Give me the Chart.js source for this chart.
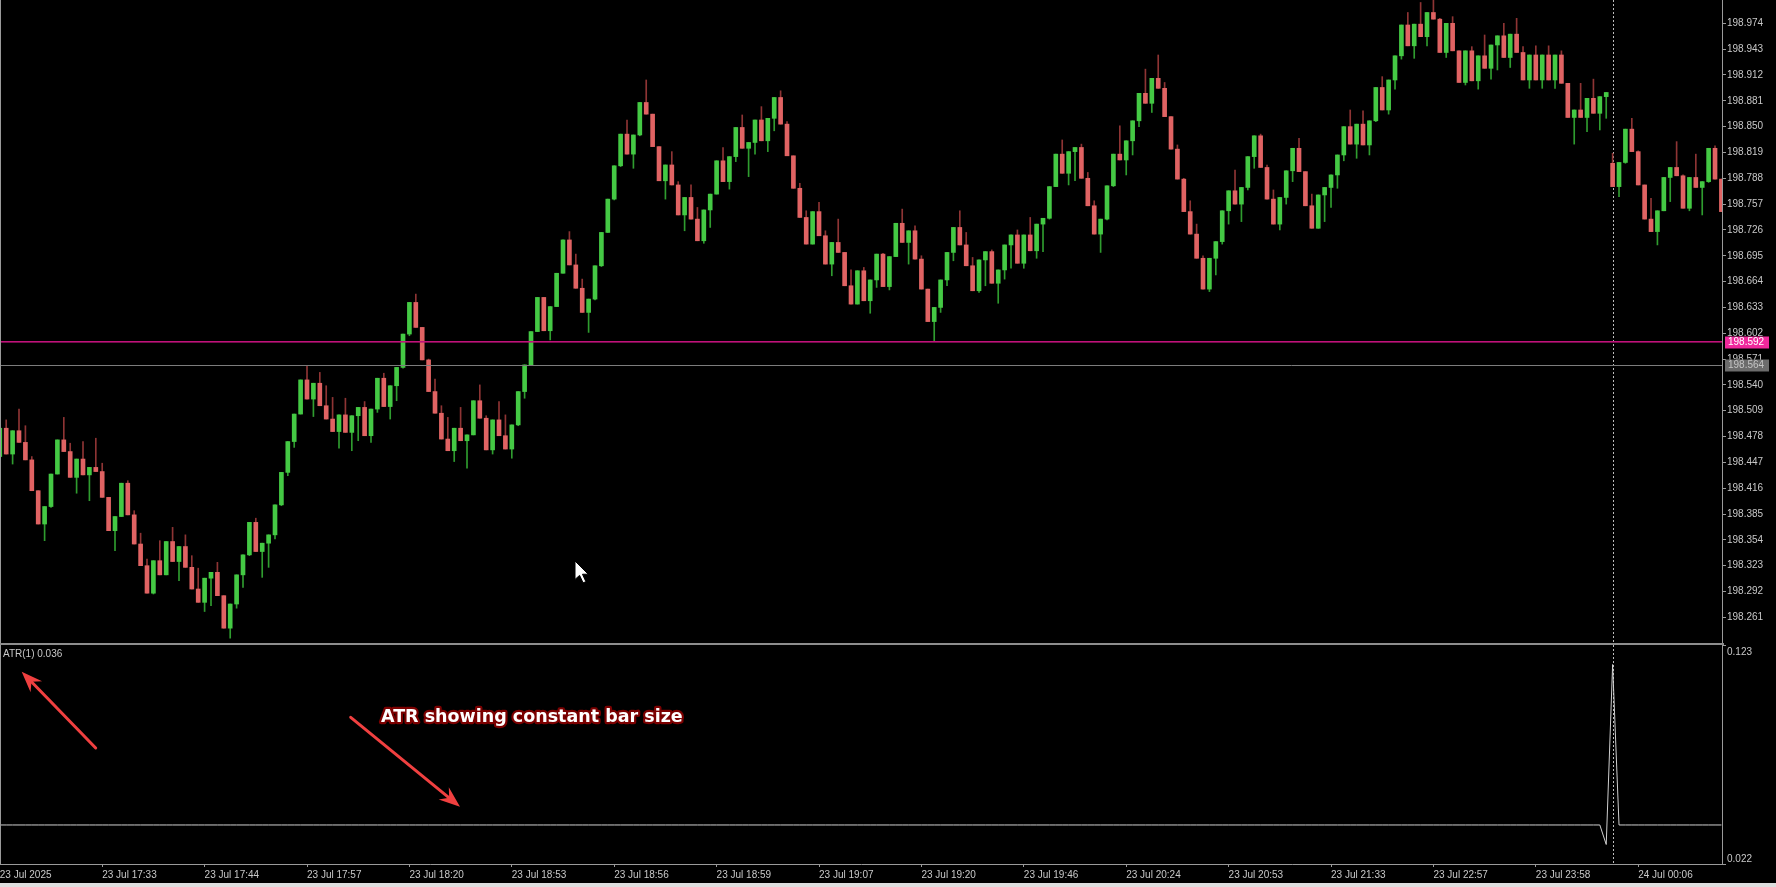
<!DOCTYPE html>
<html>
<head>
<meta charset="utf-8">
<script src="https://cdn.jsdelivr.net/npm/chart.js@4.4.1/dist/chart.umd.min.js"></script>
<style>
html,body{margin:0;padding:0;background:#000;overflow:hidden;}
#wrap{position:relative;width:1776px;height:887px;background:#000;}
#c1{position:absolute;left:0;top:0;}
#c2{position:absolute;left:0;top:645px;}
#sep{position:absolute;left:0;top:643px;width:1724px;height:2px;background:#8e8e8e;}
#strip{position:absolute;left:0;top:883px;width:1776px;height:4px;background:#dedede;}
</style>
</head>
<body>
<div id="wrap">
<canvas id="c1" width="1776" height="643"></canvas>
<div id="sep"></div>
<canvas id="c2" width="1776" height="238"></canvas>
<div id="strip"></div>
</div>
<script>
// ---------------- DATA (range bars) ----------------
const open = [
198.454,198.488,198.457,198.485,198.471,198.450,198.413,198.373,198.394,198.433,
198.474,198.460,198.429,198.451,198.432,198.441,198.436,198.405,198.365,198.382,
198.422,198.384,198.349,198.323,198.290,198.329,198.312,198.352,198.328,198.346,
198.321,198.295,198.279,198.308,198.315,198.287,198.248,198.277,198.312,198.336,
198.375,198.340,198.350,198.360,198.396,198.435,198.472,198.505,198.546,198.523,
198.542,198.515,198.499,198.484,198.504,198.483,198.503,198.513,198.479,198.511,
198.548,198.514,198.539,198.561,198.601,198.639,198.609,198.570,198.532,198.506,
198.475,198.461,198.488,198.473,198.480,198.521,198.500,198.462,198.498,198.479,
198.463,198.492,198.532,198.564,198.604,198.645,198.605,198.634,198.674,198.714,
198.684,198.656,198.627,198.643,198.683,198.723,198.763,198.803,198.841,198.817,
198.840,198.879,198.865,198.826,198.785,198.804,198.780,198.744,198.765,198.739,
198.713,198.750,198.769,198.809,198.784,198.814,198.849,198.824,198.831,198.858,
198.833,198.860,198.885,198.853,198.815,198.776,198.741,198.709,198.748,198.719,
198.685,198.711,198.699,198.659,198.637,198.677,198.641,198.666,198.697,198.658,
198.694,198.734,198.711,198.725,198.691,198.655,198.616,198.633,198.666,198.699,
198.729,198.708,198.683,198.653,198.690,198.700,198.662,198.678,198.708,198.720,
198.686,198.720,198.701,198.733,198.740,198.778,198.817,198.794,198.820,198.825,
198.788,198.755,198.721,198.739,198.779,198.817,198.810,198.833,198.857,198.890,
198.878,198.908,198.896,198.862,198.823,198.787,198.748,198.721,198.692,198.655,
198.692,198.712,198.749,198.773,198.757,198.777,198.814,198.839,198.801,198.763,
198.733,198.765,198.797,198.824,198.796,198.755,198.728,198.768,198.777,198.792,
198.816,198.850,198.829,198.853,198.828,198.857,198.897,198.870,198.906,198.935,
198.972,198.947,198.973,198.958,198.987,198.979,198.939,198.974,198.941,198.903,
198.941,198.905,198.935,198.920,198.948,198.959,198.933,198.961,198.939,198.906,
198.936,198.906,198.936,198.906,198.936,198.902,198.861,198.870,198.861,198.884,
198.866,198.886,198.806,198.778,198.807,198.847,198.820,198.780,198.739,198.724,
198.749,198.789,198.801,198.791,198.752,198.789,198.777,198.784,198.824,198.787
];
const high = [
198.488,198.498,198.485,198.511,198.491,198.454,198.413,198.394,198.433,198.474,
198.501,198.470,198.451,198.472,198.441,198.476,198.446,198.405,198.382,198.422,
198.425,198.389,198.362,198.331,198.329,198.353,198.352,198.369,198.346,198.360,
198.335,198.320,198.308,198.315,198.327,198.287,198.277,198.312,198.336,198.375,
198.380,198.350,198.360,198.396,198.435,198.472,198.505,198.546,198.563,198.542,
198.555,198.539,198.525,198.504,198.524,198.503,198.513,198.520,198.511,198.548,
198.554,198.539,198.561,198.601,198.639,198.649,198.609,198.571,198.547,198.515,
198.501,198.488,198.513,198.480,198.521,198.540,198.503,198.498,198.520,198.504,
198.492,198.532,198.564,198.604,198.645,198.645,198.634,198.674,198.714,198.724,
198.697,198.667,198.643,198.683,198.723,198.763,198.803,198.841,198.858,198.840,
198.879,198.906,198.865,198.826,198.804,198.820,198.784,198.765,198.780,198.753,
198.750,198.769,198.809,198.825,198.814,198.849,198.864,198.831,198.858,198.874,
198.860,198.885,198.893,198.856,198.815,198.782,198.749,198.748,198.759,198.725,
198.711,198.739,198.699,198.678,198.677,198.681,198.666,198.697,198.698,198.694,
198.734,198.751,198.725,198.731,198.695,198.655,198.633,198.666,198.699,198.729,
198.749,198.723,198.693,198.690,198.700,198.702,198.678,198.708,198.720,198.726,
198.720,198.741,198.733,198.740,198.778,198.817,198.834,198.820,198.825,198.829,
198.795,198.761,198.739,198.779,198.817,198.851,198.833,198.857,198.890,198.919,
198.908,198.936,198.903,198.862,198.828,198.788,198.761,198.733,198.695,198.692,
198.712,198.749,198.773,198.798,198.777,198.814,198.839,198.841,198.804,198.774,
198.765,198.797,198.824,198.836,198.796,198.769,198.768,198.777,198.792,198.816,
198.850,198.870,198.853,198.869,198.857,198.897,198.910,198.906,198.935,198.972,
198.987,198.973,198.999,198.987,199.019,198.980,198.974,198.982,198.941,198.941,
198.946,198.935,198.960,198.948,198.959,198.974,198.961,198.980,198.946,198.936,
198.947,198.936,198.947,198.936,198.941,198.902,198.870,198.902,198.884,198.907,
198.886,198.891,198.818,198.807,198.847,198.860,198.821,198.780,198.764,198.749,
198.789,198.801,198.832,198.792,198.789,198.817,198.784,198.824,198.827,198.787
];
const low = [
198.448,198.457,198.445,198.471,198.450,198.413,198.373,198.353,198.393,198.433,
198.460,198.429,198.410,198.432,198.401,198.436,198.405,198.365,198.341,198.382,
198.384,198.349,198.323,198.290,198.289,198.312,198.312,198.328,198.305,198.321,
198.295,198.279,198.268,198.275,198.287,198.248,198.236,198.272,198.297,198.335,
198.340,198.309,198.321,198.355,198.395,198.431,198.465,198.505,198.523,198.502,
198.515,198.499,198.484,198.464,198.483,198.461,198.473,198.479,198.471,198.507,
198.514,198.499,198.521,198.560,198.599,198.609,198.570,198.532,198.506,198.475,
198.461,198.448,198.473,198.440,198.480,198.500,198.462,198.457,198.479,198.463,
198.452,198.491,198.524,198.563,198.604,198.605,198.594,198.634,198.674,198.684,
198.656,198.627,198.603,198.642,198.682,198.723,198.762,198.802,198.817,198.800,
198.839,198.865,198.826,198.785,198.763,198.780,198.744,198.725,198.739,198.713,
198.710,198.729,198.769,198.784,198.775,198.808,198.824,198.790,198.817,198.833,
198.820,198.845,198.853,198.815,198.776,198.741,198.709,198.709,198.719,198.685,
198.671,198.699,198.659,198.637,198.637,198.641,198.626,198.657,198.658,198.654,
198.694,198.711,198.685,198.691,198.655,198.616,198.593,198.627,198.659,198.689,
198.708,198.683,198.653,198.651,198.659,198.662,198.638,198.667,198.680,198.686,
198.680,198.701,198.692,198.700,198.739,198.778,198.794,198.780,198.785,198.788,
198.755,198.721,198.699,198.738,198.778,198.810,198.792,198.816,198.850,198.878,
198.867,198.896,198.862,198.823,198.787,198.748,198.721,198.692,198.655,198.652,
198.672,198.709,198.733,198.757,198.736,198.774,198.800,198.801,198.763,198.733,
198.726,198.757,198.784,198.796,198.755,198.728,198.728,198.736,198.753,198.776,
198.809,198.829,198.812,198.828,198.816,198.856,198.870,198.865,198.895,198.931,
198.947,198.932,198.958,198.947,198.979,198.939,198.933,198.941,198.903,198.900,
198.905,198.895,198.920,198.907,198.918,198.933,198.921,198.939,198.906,198.896,
198.906,198.896,198.906,198.896,198.902,198.861,198.829,198.861,198.844,198.866,
198.846,198.860,198.778,198.766,198.806,198.820,198.780,198.739,198.724,198.708,
198.749,198.760,198.791,198.752,198.749,198.777,198.744,198.783,198.787,198.748
];
const close = [
198.488,198.457,198.485,198.471,198.450,198.413,198.373,198.394,198.433,198.474,
198.460,198.429,198.451,198.432,198.441,198.436,198.405,198.365,198.382,198.422,
198.384,198.349,198.323,198.290,198.329,198.312,198.352,198.328,198.346,198.321,
198.295,198.279,198.308,198.315,198.287,198.248,198.277,198.312,198.336,198.375,
198.340,198.350,198.360,198.396,198.435,198.472,198.505,198.546,198.523,198.542,
198.515,198.499,198.484,198.504,198.483,198.503,198.513,198.479,198.511,198.548,
198.514,198.539,198.561,198.601,198.639,198.609,198.570,198.532,198.506,198.475,
198.461,198.488,198.473,198.480,198.521,198.500,198.462,198.498,198.479,198.463,
198.492,198.532,198.564,198.604,198.645,198.605,198.634,198.674,198.714,198.684,
198.656,198.627,198.643,198.683,198.723,198.763,198.803,198.841,198.817,198.840,
198.879,198.865,198.826,198.785,198.804,198.780,198.744,198.765,198.739,198.713,
198.750,198.769,198.809,198.784,198.814,198.849,198.824,198.831,198.858,198.833,
198.860,198.885,198.853,198.815,198.776,198.741,198.709,198.748,198.719,198.685,
198.711,198.699,198.659,198.637,198.677,198.641,198.666,198.697,198.658,198.694,
198.734,198.711,198.725,198.691,198.655,198.616,198.633,198.666,198.699,198.729,
198.708,198.683,198.653,198.690,198.700,198.662,198.678,198.708,198.720,198.686,
198.720,198.701,198.733,198.740,198.778,198.817,198.794,198.820,198.825,198.788,
198.755,198.721,198.739,198.779,198.817,198.810,198.833,198.857,198.890,198.878,
198.908,198.896,198.862,198.823,198.787,198.748,198.721,198.692,198.655,198.692,
198.712,198.749,198.773,198.757,198.777,198.814,198.839,198.801,198.763,198.733,
198.765,198.797,198.824,198.796,198.755,198.728,198.768,198.777,198.792,198.816,
198.850,198.829,198.853,198.828,198.857,198.897,198.870,198.906,198.935,198.972,
198.947,198.973,198.958,198.987,198.979,198.939,198.974,198.941,198.903,198.941,
198.905,198.935,198.920,198.948,198.959,198.933,198.961,198.939,198.906,198.936,
198.906,198.936,198.906,198.936,198.902,198.861,198.870,198.861,198.884,198.866,
198.886,198.891,198.778,198.807,198.847,198.820,198.780,198.739,198.724,198.749,
198.789,198.801,198.791,198.752,198.789,198.777,198.784,198.824,198.787,198.748
];
// ATR(1) value per bar
const atr = [
0.040,0.040,0.040,0.040,0.040,0.040,0.040,0.040,0.040,0.040,0.040,0.040,0.040,0.040,0.040,0.040,0.040,0.040,0.040,0.040,0.040,0.040,0.040,0.040,0.040,0.040,0.040,0.040,0.040,0.040,
0.040,0.040,0.040,0.040,0.040,0.040,0.040,0.040,0.040,0.040,0.040,0.040,0.040,0.040,0.040,0.040,0.040,0.040,0.040,0.040,0.040,0.040,0.040,0.040,0.040,0.040,0.040,0.040,0.040,0.040,
0.040,0.040,0.040,0.040,0.040,0.040,0.040,0.040,0.040,0.040,0.040,0.040,0.040,0.040,0.040,0.040,0.040,0.040,0.040,0.040,0.040,0.040,0.040,0.040,0.040,0.040,0.040,0.040,0.040,0.040,
0.040,0.040,0.040,0.040,0.040,0.040,0.040,0.040,0.040,0.040,0.040,0.040,0.040,0.040,0.040,0.040,0.040,0.040,0.040,0.040,0.040,0.040,0.040,0.040,0.040,0.040,0.040,0.040,0.040,0.040,
0.040,0.040,0.040,0.040,0.040,0.040,0.040,0.040,0.040,0.040,0.040,0.040,0.040,0.040,0.040,0.040,0.040,0.040,0.040,0.040,0.040,0.040,0.040,0.040,0.040,0.040,0.040,0.040,0.040,0.040,
0.040,0.040,0.040,0.040,0.040,0.040,0.040,0.040,0.040,0.040,0.040,0.040,0.040,0.040,0.040,0.040,0.040,0.040,0.040,0.040,0.040,0.040,0.040,0.040,0.040,0.040,0.040,0.040,0.040,0.040,
0.040,0.040,0.040,0.040,0.040,0.040,0.040,0.040,0.040,0.040,0.040,0.040,0.040,0.040,0.040,0.040,0.040,0.040,0.040,0.040,0.040,0.040,0.040,0.040,0.040,0.040,0.040,0.040,0.040,0.040,
0.040,0.040,0.040,0.040,0.040,0.040,0.040,0.040,0.040,0.040,0.040,0.040,0.040,0.040,0.040,0.040,0.040,0.040,0.040,0.040,0.040,0.040,0.040,0.040,0.040,0.040,0.040,0.040,0.040,0.040,
0.040,0.040,0.040,0.040,0.040,0.040,0.040,0.040,0.040,0.040,0.040,
0.031,0.114,
0.040,0.040,0.040,0.040,0.040,0.040,0.040,0.040,0.040,0.040,0.040,0.040,0.040,0.040,0.040,0.040,0.040
];
const priceTicks = [198.261,198.292,198.323,198.354,198.385,198.416,198.447,198.478,198.509,198.540,
  198.571,198.602,198.633,198.664,198.695,198.726,198.757,198.788,198.819,198.850,198.881,198.912,198.943,198.974,199.005];
const timeTickBars = [0,16,32,48,64,80,96,112,128,144,160,176,192,208,224,240,256];
const timeLabels = ["23 Jul 2025","23 Jul 17:33","23 Jul 17:44","23 Jul 17:57","23 Jul 18:20","23 Jul 18:53",
  "23 Jul 18:56","23 Jul 18:59","23 Jul 19:07","23 Jul 19:20","23 Jul 19:46","23 Jul 20:24","23 Jul 20:53",
  "23 Jul 21:33","23 Jul 22:57","23 Jul 23:58","24 Jul 00:06"];
const hLevels = [198.592, 198.564];
const daySeparatorBar = 252;
const atrAxisLabels = [0.123, 0.022];
const atrTitle = "ATR(1) 0.036";
const noteText = "ATR showing constant bar size";

// ---------------- STYLE ----------------
const FONT = '"Liberation Sans", Arial, sans-serif';
const TXT = '#c8c8c8';
const AXIS = '#9a9a9a';
const X_MIN = 0.031, X_MAX = 269.09;
const UP_BODY = '#44c944', DN_BODY = '#e06363', UP_WICK = '#2f9c2f', DN_WICK = '#8e3434';
Chart.defaults.font.family = FONT;
Chart.defaults.font.size = 10;

const idx = open.map((_, i) => i);
const isUp = idx.map(i => close[i] >= open[i]);

function noPad(s) { s.paddingTop = 0; s.paddingBottom = 0; s.paddingLeft = 0; s.paddingRight = 0; }

function drawArrow(ctx, x1, y1, x2, y2) {
  const a = Math.atan2(y2 - y1, x2 - x1);
  const c = Math.cos(a), s = Math.sin(a);
  const hl = 21, hw = 8, notch = 14;
  ctx.save();
  ctx.strokeStyle = '#f04040'; ctx.fillStyle = '#f04040';
  ctx.lineWidth = 3; ctx.lineCap = 'round';
  ctx.beginPath(); ctx.moveTo(x1, y1); ctx.lineTo(x2 - notch * c, y2 - notch * s); ctx.stroke();
  ctx.beginPath();
  ctx.moveTo(x2, y2);
  ctx.lineTo(x2 - hl * c - hw * s, y2 - hl * s + hw * c);
  ctx.lineTo(x2 - notch * c, y2 - notch * s);
  ctx.lineTo(x2 - hl * c + hw * s, y2 - hl * s - hw * c);
  ctx.closePath(); ctx.fill();
  ctx.restore();
}

function vDashed(chart) {
  const {ctx, chartArea: a, scales: {x}} = chart;
  const sx = Math.round(x.getPixelForValue(daySeparatorBar)) + 0.5;
  ctx.save();
  ctx.strokeStyle = '#bcbcbc'; ctx.lineWidth = 1; ctx.setLineDash([2, 2]);
  ctx.beginPath(); ctx.moveTo(sx, a.top); ctx.lineTo(sx, a.bottom); ctx.stroke();
  ctx.restore();
}

const mainDecor = {
  id: 'mainDecor',
  beforeDatasetsDraw(chart) { vDashed(chart); },
  afterDatasetsDraw(chart) {
    const {ctx, chartArea: a, scales: {y}} = chart;
    ctx.save();
    // magenta level (slightly thick) and grey level
    let py = y.getPixelForValue(hLevels[0]);
    ctx.fillStyle = '#c0127a'; ctx.fillRect(a.left, Math.round(py) - 1, a.right - a.left, 1.6);
    py = Math.round(y.getPixelForValue(hLevels[1])) + 0.5;
    ctx.strokeStyle = '#7c7c7c'; ctx.lineWidth = 1;
    ctx.beginPath(); ctx.moveTo(a.left, py); ctx.lineTo(a.right, py); ctx.stroke();
    ctx.restore();
  },
  afterDraw(chart) {
    const {ctx, chartArea: a, scales: {y}} = chart;
    ctx.save();
    ctx.fillStyle = AXIS; ctx.fillRect(0, a.top, 1, a.bottom - a.top);
    const bg = ['#f0289c', '#6c6c6c'], fg = ['#ffffff', '#c4c4c4'];
    hLevels.forEach((p, k) => {
      const py = y.getPixelForValue(p);
      ctx.fillStyle = bg[k];
      ctx.fillRect(a.right + 3, Math.round(py) - 5.5, 44, 12);
      ctx.fillStyle = fg[k]; ctx.font = '10px ' + FONT;
      ctx.textBaseline = 'middle'; ctx.textAlign = 'left';
      ctx.fillText(p.toFixed(3), a.right + 6, py + 0.5);
    });
    // mouse cursor
    const cx = 575, cy = 561, sc = 1.15;
    const pts = [[0,0],[0,16],[4,12.5],[7,19],[9.5,18],[6.5,11.5],[11.5,11.5]];
    ctx.beginPath();
    pts.forEach((q, i) => { const X = cx + q[0]*sc, Y = cy + q[1]*sc; i ? ctx.lineTo(X, Y) : ctx.moveTo(X, Y); });
    ctx.closePath();
    ctx.fillStyle = '#ffffff'; ctx.fill();
    ctx.strokeStyle = '#000000'; ctx.lineWidth = 1; ctx.stroke();
    ctx.restore();
  }
};

new Chart(document.getElementById('c1'), {
  type: 'bar',
  data: {
    datasets: [
      {
        label: 'body', order: 0,
        data: idx.map(i => ({x: i, y: [open[i], close[i]]})),
        backgroundColor: idx.map(i => isUp[i] ? UP_BODY : DN_BODY),
        borderWidth: 0, barThickness: 4, grouped: false, minBarLength: 1
      },
      {
        label: 'wick', order: 1,
        data: idx.map(i => ({x: i, y: [low[i], high[i]]})),
        backgroundColor: idx.map(i => isUp[i] ? UP_WICK : DN_WICK),
        borderWidth: 0, barThickness: 1, grouped: false
      }
    ]
  },
  options: {
    responsive: false, animation: false, devicePixelRatio: 1,
    layout: {padding: 0, autoPadding: false},
    plugins: {legend: {display: false}, tooltip: {enabled: false}},
    scales: {
      x: {type: 'linear', min: X_MIN, max: X_MAX, display: false, offset: false, grid: {offset: false}},
      y: {
        position: 'right', min: 198.2302, max: 199.0020, beginAtZero: false,
        afterFit(s) { s.width = 54; noPad(s); },
        afterBuildTicks(s) { s.ticks = priceTicks.map(v => ({value: v})); },
        ticks: {color: TXT, padding: 1, autoSkip: false, crossAlign: 'near',
                font: {size: 10, family: FONT}, callback: v => Number(v).toFixed(3)},
        grid: {display: true, drawOnChartArea: false, drawTicks: true, tickLength: 4, color: AXIS},
        border: {display: true, color: AXIS}
      }
    }
  },
  plugins: [mainDecor]
});

const atrDecor = {
  id: 'atrDecor',
  beforeDatasetsDraw(chart) { vDashed(chart); },
  afterDraw(chart) {
    const {ctx, chartArea: a, scales: {y}} = chart;
    ctx.save();
    ctx.fillStyle = AXIS; ctx.fillRect(0, a.top, 1, a.bottom - a.top);
    ctx.font = '10px ' + FONT; ctx.fillStyle = TXT; ctx.textAlign = 'left'; ctx.textBaseline = 'middle';
    ctx.fillText(atrTitle, 3, 9.5);
    ctx.fillText(atrAxisLabels[0].toFixed(3), a.right + 5, y.getPixelForValue(atrAxisLabels[0]) + 7);
    ctx.fillText(atrAxisLabels[1].toFixed(3), a.right + 5, y.getPixelForValue(atrAxisLabels[1]) - 5);
    drawArrow(ctx, 95.7, 103, 21.7, 26.7);
    drawArrow(ctx, 350.7, 72.3, 460, 161.7);
    ctx.font = 'bold 17.5px "DejaVu Sans", sans-serif';
    ctx.textBaseline = 'alphabetic';
    ctx.lineJoin = 'round'; ctx.lineWidth = 4.5; ctx.strokeStyle = '#7c0000';
    ctx.strokeText(noteText, 381, 77);
    ctx.fillStyle = '#ffffff';
    ctx.fillText(noteText, 381, 77);
    ctx.restore();
  }
};

new Chart(document.getElementById('c2'), {
  type: 'line',
  data: {
    datasets: [{
      label: 'ATR(1)',
      data: idx.map(i => ({x: i, y: atr[i]})),
      borderColor: '#d0d0d0', borderWidth: 1, pointRadius: 0, tension: 0, fill: false
    }]
  },
  options: {
    responsive: false, animation: false, devicePixelRatio: 1,
    layout: {padding: 0, autoPadding: false},
    plugins: {legend: {display: false}, tooltip: {enabled: false}},
    scales: {
      x: {
        type: 'linear', min: X_MIN, max: X_MAX, offset: false,
        afterFit(s) { s.height = 19; noPad(s); },
        afterBuildTicks(s) { s.ticks = timeTickBars.map(v => ({value: v})); },
        ticks: {align: 'start', autoSkip: false, maxRotation: 0, minRotation: 0, padding: 2, color: TXT,
                font: {size: 10, family: FONT}, callback: (v, i) => timeLabels[i]},
        grid: {display: true, drawOnChartArea: false, drawTicks: true, tickLength: 3, color: AXIS, offset: false},
        border: {display: true, color: AXIS}
      },
      y: {
        position: 'right', min: 0.022, max: 0.123, beginAtZero: false,
        afterFit(s) { s.width = 54; noPad(s); },
        afterBuildTicks(s) { s.ticks = atrAxisLabels.map(v => ({value: v})); },
        ticks: {display: false},
        grid: {display: true, drawOnChartArea: false, drawTicks: true, tickLength: 4, color: AXIS},
        border: {display: true, color: AXIS}
      }
    }
  },
  plugins: [atrDecor]
});
</script>
</body>
</html>
